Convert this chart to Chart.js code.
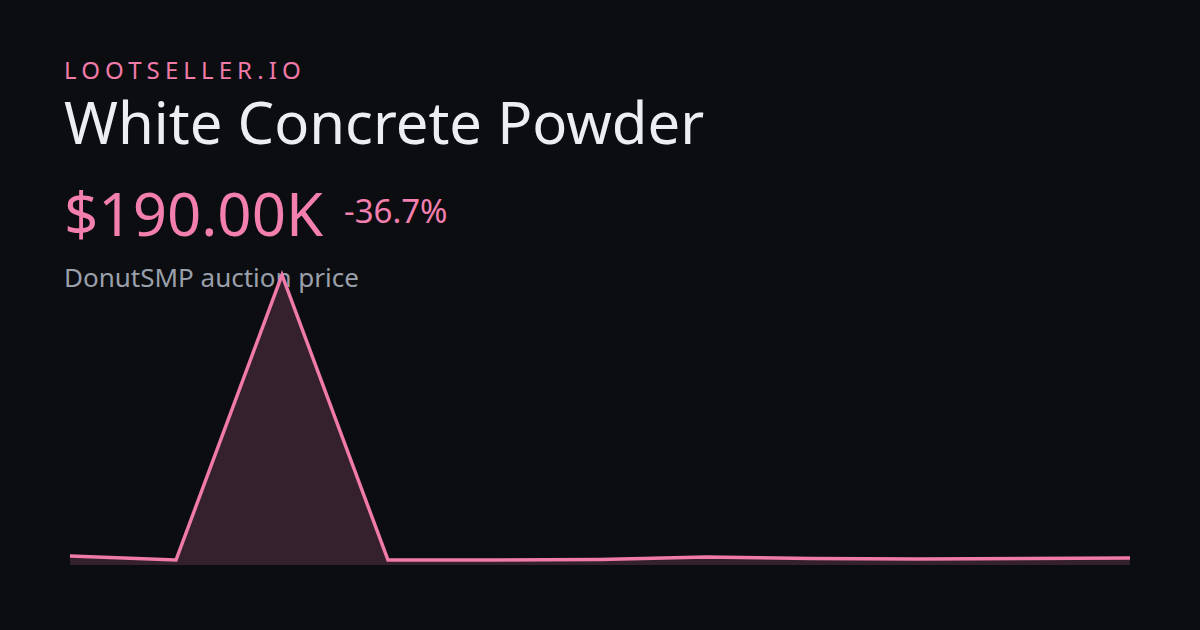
<!DOCTYPE html>
<html><head><meta charset="utf-8">
<script src="https://cdn.jsdelivr.net/npm/chart.js@4/dist/chart.umd.min.js"></script>
<style>
html,body{margin:0;padding:0;background:#0c0d10;width:1200px;height:630px;overflow:hidden;font-family:"Noto Sans",sans-serif;}
.t{position:absolute;left:64px;white-space:nowrap;}
#brand{top:53px;font-size:24px;letter-spacing:5.1px;color:#f07aa8;}
#title{top:82px;font-size:58px;color:#eceef2;}
#price{top:172px;font-size:60px;color:#f27fae;}
#chg{top:188px;left:344px;font-size:33px;color:#f27fae;}
#sub{top:259px;font-size:26px;color:#9aa0ab;}
#wrap{position:absolute;left:66px;top:270px;width:1068px;height:296px;}
</style></head><body>
<div class="t" id="brand">LOOTSELLER.IO</div>
<div class="t" id="title">White Concrete Powder</div>
<div class="t" id="price">$190.00K</div>
<div class="t" id="chg">-36.7%</div>
<div class="t" id="sub">DonutSMP auction price</div>
<div id="wrap"><canvas id="c"></canvas></div>
<script>
const labels = ['1','2','3','4','5','6','7','8','9','10','11'];
const prices = [245, 135, 7830, 135, 135, 150, 215, 175, 165, 175, 190]; // in K
new Chart(document.getElementById('c'), {
  type: 'line',
  data: { labels: labels, datasets: [{
    data: prices, borderColor: '#f07aa8', borderWidth: 3.5,
    backgroundColor: '#35212d', fill: 'origin', pointRadius: 0, tension: 0, clip: false
  }]},
  options: {
    responsive: true, maintainAspectRatio: false, animation: false,
    layout: { padding: { left: 4, right: 4, top: 5, bottom: 1 } },
    plugins: { legend: { display: false }, tooltip: { enabled: false } },
    scales: {
      x: { display: false },
      y: { display: false, min: 0, max: 7830 }
    }
  }
});
</script>
</body></html>
